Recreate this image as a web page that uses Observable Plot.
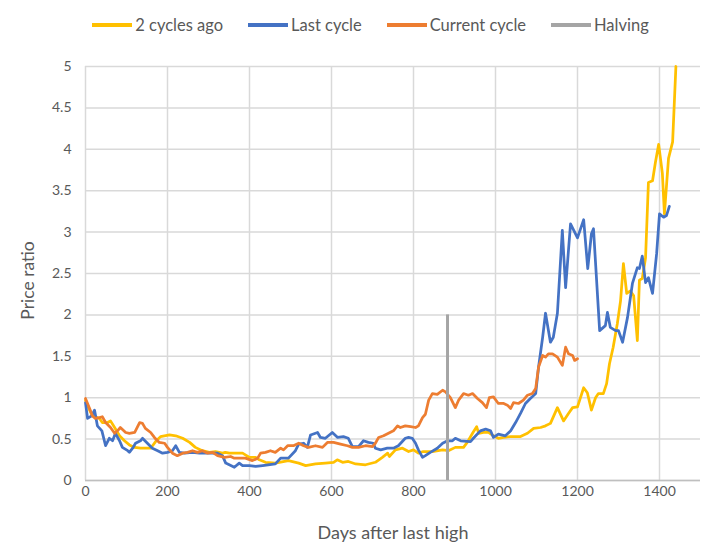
<!DOCTYPE html>
<html>
<head>
<meta charset="utf-8">
<script src="https://cdn.jsdelivr.net/npm/d3@7"></script>
<script src="https://cdn.jsdelivr.net/npm/@observablehq/plot@0.6"></script>
<style>
  html, body { margin: 0; padding: 0; background: #fff; }
  #wrap { width: 727px; height: 546px; position: relative; font-family: Lato, "Open Sans", sans-serif; color: #595959; }
  #legend { height: 50px; display: flex; justify-content: center; align-items: center; font-size: 16.5px; padding-left: 14px; box-sizing: border-box; }
  .item { display: flex; align-items: center; margin: 0 12.5px; }
  .sw { width: 40px; height: 4px; margin-right: 3px; }
</style>
</head>
<body>
<div id="wrap">
  <div id="legend"></div>
  <div id="chart"></div>
</div>
<script>
const xTicks = [0, 200, 400, 600, 800, 1000, 1200, 1400];
const yTicks = [0, 0.5, 1, 1.5, 2, 2.5, 3, 3.5, 4, 4.5, 5];
const seriesNames = ["2 cycles ago", "Last cycle", "Current cycle", "Halving"];
const seriesColors = ["#FFC000", "#4472C4", "#ED7D31", "#A5A5A5"];
const halvingDay = [883];
const halvingTop = 2;

// [day, price ratio]
const twoCyclesAgo = [[0,0.97],[10,0.85],[17,0.78],[34,0.75],[41,0.70],[54,0.70],[61,0.72],[71,0.64],[83,0.54],[95,0.48],[107,0.43],[120,0.40],[134,0.39],[151,0.39],[159,0.39],[171,0.47],[183,0.53],[205,0.55],[220,0.54],[237,0.51],[254,0.46],[268,0.40],[285,0.36],[302,0.34],[317,0.35],[334,0.33],[341,0.34],[351,0.33],[366,0.33],[383,0.33],[400,0.28],[415,0.28],[424,0.25],[439,0.22],[463,0.21],[495,0.24],[520,0.21],[537,0.18],[561,0.20],[585,0.21],[605,0.22],[614,0.25],[627,0.22],[641,0.23],[659,0.20],[683,0.19],[707,0.22],[724,0.28],[737,0.33],[741,0.29],[756,0.37],[773,0.39],[788,0.35],[800,0.37],[812,0.33],[824,0.35],[846,0.35],[871,0.37],[885,0.36],[902,0.40],[922,0.40],[931,0.46],[944,0.57],[954,0.65],[959,0.57],[971,0.58],[983,0.58],[995,0.54],[1007,0.51],[1020,0.52],[1037,0.53],[1061,0.53],[1078,0.57],[1093,0.63],[1110,0.64],[1122,0.66],[1134,0.69],[1151,0.88],[1166,0.72],[1178,0.81],[1188,0.88],[1200,0.89],[1215,1.12],[1224,1.06],[1234,0.85],[1244,1.00],[1251,1.05],[1263,1.05],[1271,1.17],[1278,1.41],[1287,1.61],[1297,1.89],[1305,2.17],[1312,2.62],[1320,2.26],[1329,2.29],[1337,2.23],[1346,1.69],[1351,2.42],[1358,2.44],[1366,2.69],[1373,3.60],[1383,3.62],[1390,3.84],[1398,4.06],[1407,3.71],[1412,3.22],[1422,3.89],[1432,4.09],[1440,5.0]];

const lastCycle = [[0,0.94],[5,0.75],[15,0.78],[22,0.85],[29,0.66],[40,0.60],[49,0.42],[58,0.51],[66,0.48],[73,0.57],[83,0.48],[90,0.40],[103,0.36],[107,0.34],[115,0.39],[122,0.45],[134,0.48],[139,0.51],[151,0.45],[163,0.39],[176,0.36],[188,0.33],[200,0.34],[212,0.36],[220,0.42],[229,0.34],[241,0.33],[261,0.34],[278,0.33],[298,0.33],[322,0.33],[334,0.30],[342,0.21],[363,0.16],[375,0.21],[383,0.18],[400,0.18],[415,0.17],[432,0.18],[463,0.20],[476,0.27],[495,0.27],[512,0.36],[520,0.44],[532,0.45],[541,0.40],[549,0.55],[566,0.58],[573,0.52],[585,0.51],[602,0.58],[615,0.52],[629,0.53],[641,0.51],[651,0.41],[666,0.41],[678,0.48],[690,0.46],[702,0.45],[707,0.39],[720,0.37],[736,0.39],[751,0.39],[763,0.42],[780,0.51],[788,0.52],[797,0.51],[805,0.45],[812,0.37],[822,0.28],[829,0.30],[841,0.34],[858,0.39],[871,0.45],[883,0.48],[895,0.48],[902,0.51],[915,0.48],[939,0.47],[946,0.51],[963,0.60],[976,0.62],[988,0.60],[995,0.52],[1007,0.56],[1024,0.54],[1037,0.60],[1049,0.70],[1061,0.81],[1073,0.93],[1085,0.99],[1098,1.05],[1105,1.37],[1115,1.73],[1122,2.02],[1134,1.67],[1141,1.73],[1151,2.02],[1163,3.02],[1171,2.33],[1183,3.10],[1200,2.93],[1215,3.15],[1225,2.56],[1234,2.98],[1239,3.04],[1254,1.81],[1268,1.87],[1273,2.03],[1280,1.85],[1293,1.81],[1300,1.81],[1310,1.67],[1322,1.97],[1334,2.38],[1346,2.57],[1351,2.56],[1358,2.71],[1366,2.39],[1373,2.45],[1383,2.26],[1393,2.74],[1400,3.22],[1410,3.18],[1417,3.20],[1424,3.31]];

const currentCycle = [[0,0.99],[10,0.87],[17,0.78],[24,0.75],[34,0.76],[41,0.77],[49,0.70],[61,0.64],[71,0.57],[78,0.60],[85,0.64],[98,0.58],[107,0.57],[120,0.58],[132,0.70],[139,0.69],[146,0.63],[159,0.58],[168,0.52],[180,0.46],[193,0.45],[200,0.40],[212,0.33],[224,0.30],[237,0.33],[249,0.34],[261,0.36],[273,0.34],[285,0.36],[298,0.33],[310,0.34],[322,0.30],[339,0.28],[354,0.29],[363,0.27],[375,0.27],[390,0.27],[407,0.24],[420,0.27],[427,0.33],[439,0.34],[451,0.36],[463,0.34],[476,0.39],[483,0.37],[493,0.42],[507,0.42],[520,0.45],[532,0.42],[544,0.40],[561,0.42],[578,0.40],[590,0.46],[605,0.46],[622,0.44],[639,0.42],[651,0.40],[666,0.40],[683,0.42],[700,0.41],[707,0.45],[715,0.52],[727,0.54],[739,0.57],[751,0.60],[761,0.66],[768,0.64],[780,0.66],[793,0.65],[805,0.64],[812,0.66],[822,0.76],[829,0.80],[837,0.97],[846,1.05],[858,1.04],[871,1.09],[878,1.07],[890,1.00],[902,0.88],[910,0.97],[922,1.05],[934,1.03],[944,1.05],[956,0.99],[968,0.94],[978,0.88],[985,1.00],[995,1.01],[1007,0.93],[1020,0.93],[1029,0.91],[1037,0.87],[1044,0.94],[1056,0.93],[1068,0.97],[1078,1.03],[1090,1.05],[1098,1.11],[1105,1.37],[1115,1.51],[1122,1.49],[1129,1.53],[1139,1.53],[1151,1.49],[1163,1.39],[1171,1.61],[1178,1.53],[1188,1.51],[1193,1.45],[1200,1.47]];

// legend
const legend = document.getElementById("legend");
seriesNames.forEach((name, i) => {
  const item = document.createElement("div");
  item.className = "item";
  const sw = document.createElement("div");
  sw.className = "sw";
  sw.style.background = seriesColors[i];
  const t = document.createElement("span");
  t.textContent = name;
  item.appendChild(sw);
  item.appendChild(t);
  legend.appendChild(item);
});

const lineOpts = (color) => ({x: d => d[0], y: d => d[1], stroke: color, strokeWidth: 2.75, strokeLinejoin: "round", strokeLinecap: "round"});

const chart = Plot.plot({
  width: 727,
  height: 496,
  marginLeft: 85,
  marginRight: 27,
  marginTop: 16,
  marginBottom: 66,
  style: {fontFamily: "Lato, 'Open Sans', sans-serif", fontSize: "14px", color: "#595959", background: "white", overflow: "visible"},
  x: {domain: [0, 1500]},
  y: {domain: [0, 5]},
  marks: [
    Plot.gridX(xTicks, {stroke: "#d9d9d9", strokeOpacity: 1, strokeWidth: 1.5}),
    Plot.gridY(yTicks, {stroke: "#d9d9d9", strokeOpacity: 1, strokeWidth: 1.5}),
    Plot.ruleY([0], {stroke: "#bfbfbf", strokeWidth: 1.5}),
    Plot.axisX(xTicks, {tickSize: 0, tickPadding: 6, label: null, fill: "#595959", tickFormat: d => String(d)}),
    Plot.axisY(yTicks, {tickSize: 0, tickPadding: 14, label: null, fill: "#595959", tickFormat: d => String(d)}),
    Plot.line(twoCyclesAgo, lineOpts(seriesColors[0])),
    Plot.line(lastCycle, lineOpts(seriesColors[1])),
    Plot.line(currentCycle, lineOpts(seriesColors[2])),
    Plot.ruleX(halvingDay, {y1: 0, y2: halvingTop, stroke: seriesColors[3], strokeWidth: 3}),
    Plot.text(["Days after last high"], {frameAnchor: "bottom", dy: 53, fill: "#595959", fontSize: 18, lineAnchor: "middle"}),
    Plot.text(["Price ratio"], {frameAnchor: "left", textAnchor: "middle", dx: -57, dy: 7, rotate: -90, fill: "#595959", fontSize: 17.5, lineAnchor: "middle"})
  ]
});
document.getElementById("chart").appendChild(chart);
</script>
</body>
</html>
